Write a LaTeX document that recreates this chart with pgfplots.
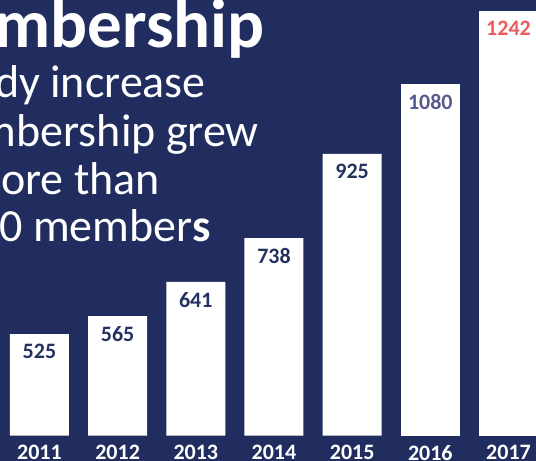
\documentclass[border=0pt]{standalone}
\usepackage{pgfplots}
\pgfplotsset{compat=1.18}
\usepackage{fontspec}
\setmainfont{Carlito}

\definecolor{bgnavy}{HTML}{212D5E}
\definecolor{labnavy}{HTML}{243262}
\definecolor{labgrey}{HTML}{5A5B8C}
\definecolor{labred}{HTML}{EE5A5E}

\begin{document}
\begin{tikzpicture}[x=1bp,y=1bp]
\path[use as bounding box] (0,0) rectangle (536,461);
\clip (0,0) rectangle (536,461);
\fill[bgnavy] (0,0) rectangle (536,461);

% headline text, cut off at the left edge as in the slide
\node[anchor=base east, inner sep=0, text=white,
      font=\fontsize{69bp}{72bp}\selectfont\bfseries] at (265,413) {Membership};
\begin{scope}[every node/.style={anchor=base east, inner sep=0, text=white,
      font=\fontsize{46bp}{48bp}\selectfont}]
\node at (206,363) {Steady increase};
\node at (259,314) {Membership grew};
\node at (160,266) {more than};
\node at (211,219) {1200 member\textbf{s}};
\end{scope}

% at= needs real units here, plain numbers get scaled by the axis units
\begin{axis}[
    at={(0bp,25.3bp)}, anchor=south west,
    scale only axis,
    width=536bp, height=435.7bp,
    xmin=-0.505, xmax=6.352,
    ymin=300, ymax=1266,
    ybar, bar width=59bp, bar shift=0pt,
    axis line style={draw=none},
    ytick=\empty,
    xtick={0,...,6},
    xticklabels={2011,2012,2013,2014,2015,2016,2017},
    xtick style={draw=none},
    xticklabel style={text=white, inner sep=0pt, anchor=north, yshift=-5bp,
        font=\fontsize{22bp}{24bp}\selectfont\bfseries},
    nodes near coords={\pgfmathprintnumber[1000 sep={},assume math mode=true]{\pgfplotspointmeta}},
    every node near coord/.append style={anchor=north, inner sep=0pt, yshift=-10bp,
        font=\fontsize{22bp}{24bp}\selectfont\bfseries},
]
\addplot[fill=white, draw=none, every node near coord/.append style={text=labnavy}]
    coordinates {(0,525) (1,565) (2,641) (3,738) (4,925)};
\addplot[fill=white, draw=none, every node near coord/.append style={text=labgrey}]
    coordinates {(5,1080)};
\addplot[fill=white, draw=none, every node near coord/.append style={text=labred}]
    coordinates {(6,1242)};
\end{axis}
\end{tikzpicture}
\end{document}
